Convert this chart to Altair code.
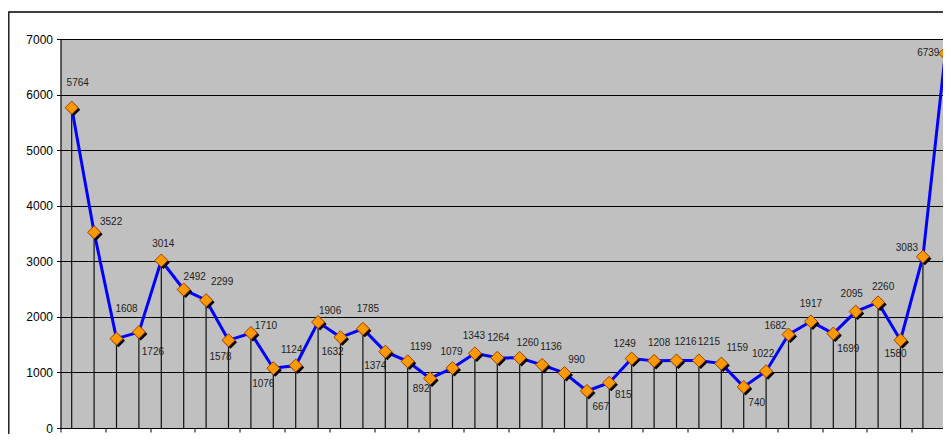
import altair as alt
import pandas as pd

# Values (40 consecutive categories)
VALUES = [5764, 3522, 1608, 1726, 3014, 2492, 2299, 1578, 1710, 1076,
          1124, 1906, 1632, 1785, 1374, 1199, 892, 1079, 1343, 1264,
          1260, 1136, 990, 667, 815, 1249, 1208, 1216, 1215, 1159,
          740, 1022, 1682, 1917, 1699, 2095, 2260, 1580, 3083, 6739]
INDEX = list(range(1, len(VALUES) + 1))

# Data-label placement (pixel offsets of each label from its marker)
LABEL_DX = [6, 17, 10, 14, 2, 11, 16, -8, 15, -10, -4, 12, -8, 5, -10, 13, -9, -1, -1, 1,
            8, 9, 12, 14, 14, -7, 5, 9, 10, 16, 13, -3, -13, 0, 15, -4, 5, -5, -16, -17]
LABEL_DY = [-25, -10, -30, 20, -17, -13, -18, 17, -7, 16, -16, -11, 15, -20, 14, -14, 11, -16, -17, -20,
            -15, -18, -13, 16, 12, -15, -18, -18, -18, -16, 16, -17, -9, -17, 15, -18, -15, 14, -9, -1]

Y_TICKS = [0, 1000, 2000, 3000, 4000, 5000, 6000, 7000]
X_BOUNDS = [i + 0.5 for i in range(0, 40)]

df = pd.DataFrame({"idx": INDEX, "value": VALUES, "ldx": LABEL_DX, "ldy": LABEL_DY, "zero": 0})

FONT = "Liberation Sans"

x_scale = alt.Scale(domain=[0.5, 39.897], nice=False, zero=False)
y_scale = alt.Scale(domain=[0, 7000], nice=False)

x_enc = alt.X("idx:Q", scale=x_scale,
              axis=alt.Axis(values=X_BOUNDS, labels=False, title=None, grid=False,
                            tickSize=4, tickColor="black", domainColor="black",
                            domainWidth=1, tickWidth=1))
y_enc = alt.Y("value:Q", scale=y_scale,
              axis=alt.Axis(values=Y_TICKS, format="d", title=None, grid=True, gridColor="black",
                            gridWidth=1, tickSize=4, tickColor="black", domainColor="black",
                            domainWidth=1, tickWidth=1, labelFont=FONT, labelFontSize=12,
                            labelColor="black", labelPadding=4))

base = alt.Chart(df)

drops = base.mark_rule(color="#111111", strokeWidth=1.2).encode(
    x=x_enc, y=y_enc, y2="zero:Q")

line = base.mark_line(color="#0000FF", strokeWidth=3).encode(x="idx:Q", y="value:Q")

shadow = base.mark_point(shape="diamond", filled=True, color="black", size=170,
                         opacity=1, xOffset=2, yOffset=2).encode(x="idx:Q", y="value:Q")

markers = base.mark_point(shape="diamond", filled=True, fill="#FF9900", stroke="#A04000",
                          strokeWidth=1, size=170, opacity=1).encode(x="idx:Q", y="value:Q")

labels = base.mark_text(font=FONT, fontSize=10, color="#222222", align="center",
                        baseline="middle", dx=alt.expr("datum.ldx"),
                        dy=alt.expr("datum.ldy")).encode(
    x="idx:Q", y="value:Q", text="value:Q")

border = alt.Chart(pd.DataFrame({"a": [0]})).mark_rect(
    fillOpacity=0, stroke="black", strokeWidth=1.3).encode(
    x=alt.value(-51.7), x2=alt.value(1200), y=alt.value(-27), y2=alt.value(1000))

chart = alt.layer(drops, line, shadow, markers, labels, border).properties(
    width=882.5, height=389,
    padding={"left": 52.5, "top": 31, "right": 0, "bottom": 6},
    autosize=alt.AutoSizeParams(type="none"),
    background="white",
).configure_view(fill="#C0C0C0", stroke="#8A8A8A", strokeWidth=1)

chart.save("out.html", embed_options={"renderer": "svg", "actions": False})
